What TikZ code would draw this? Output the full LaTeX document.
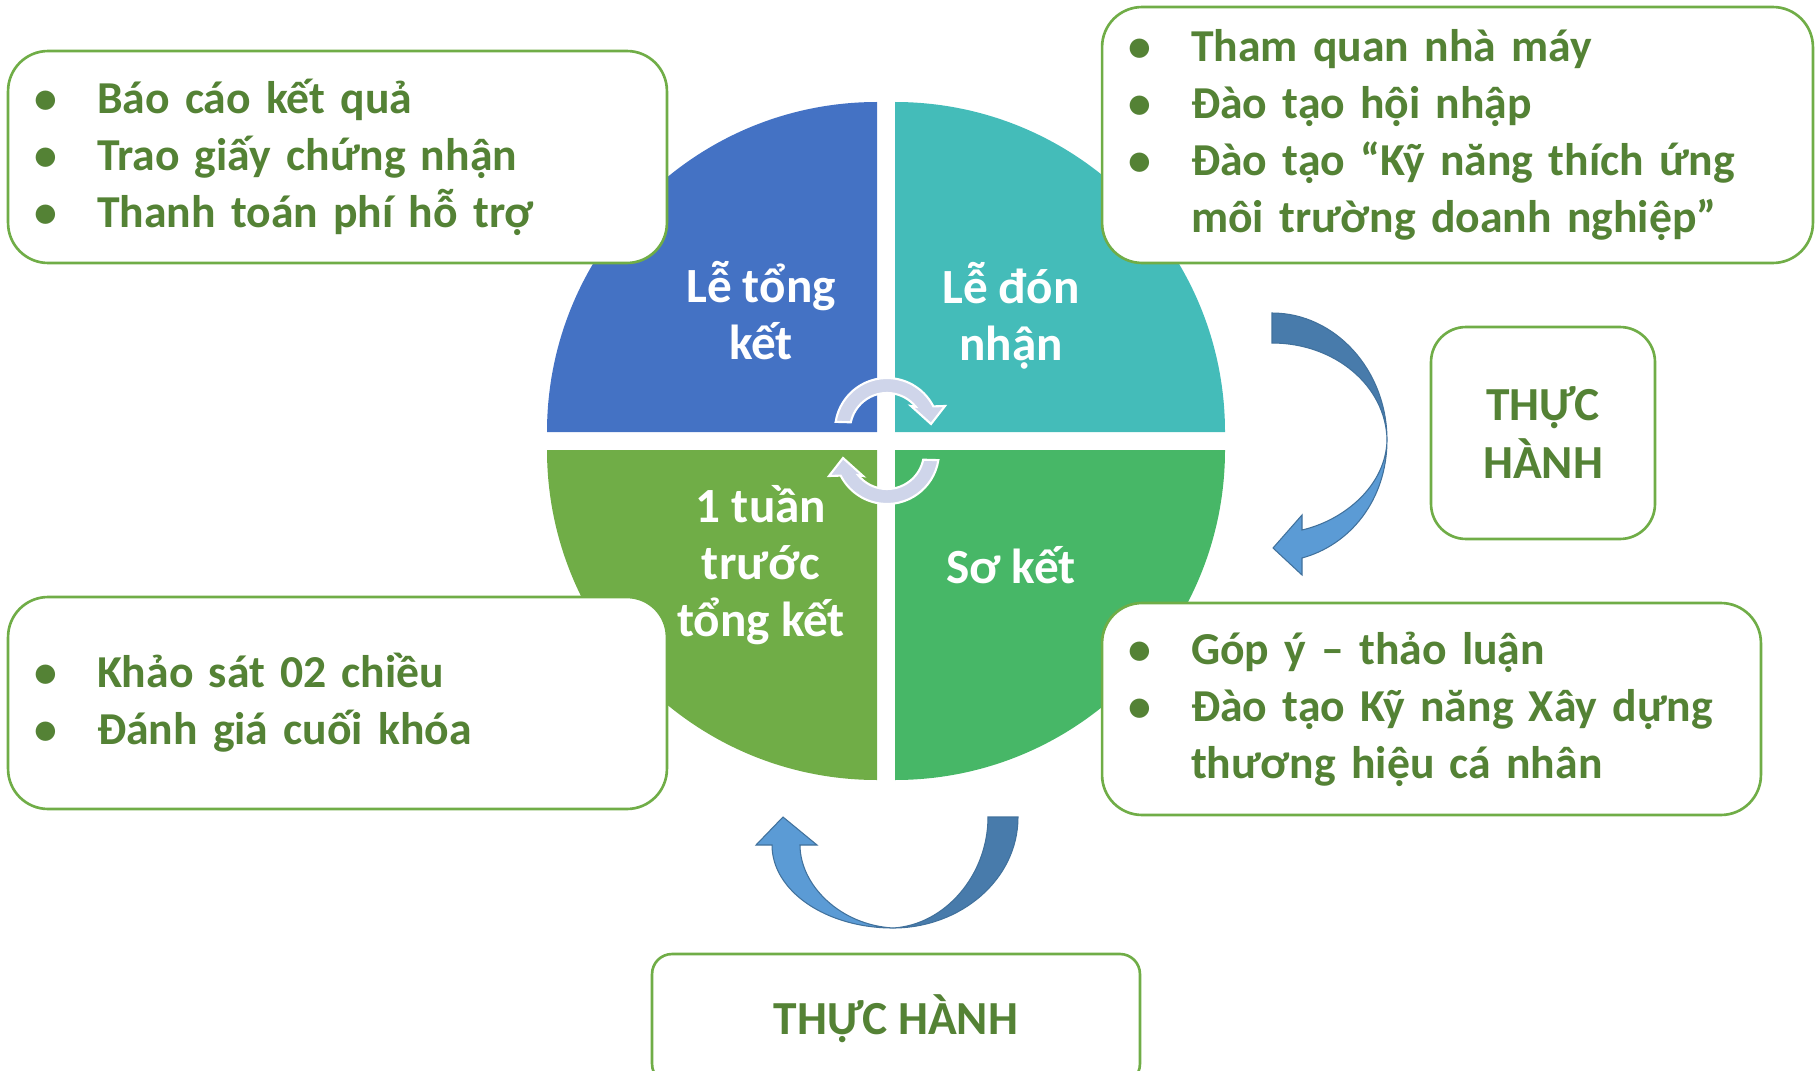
\documentclass[tikz,border=0pt]{standalone}
\usepackage{fontspec}
\setmainfont{Carlito}
\usetikzlibrary{positioning}

\definecolor{qblue}{HTML}{4472C4}
\definecolor{qteal}{HTML}{44BCB9}
\definecolor{qgreen}{HTML}{47B767}
\definecolor{qolive}{HTML}{70AD47}
\definecolor{boxgreen}{HTML}{70AD47}
\definecolor{textgreen}{HTML}{548235}
\definecolor{arrlightc}{HTML}{5B9BD5}
\definecolor{arrdarkc}{HTML}{487BAB}
\definecolor{arredge}{HTML}{41719C}
\definecolor{rotfill}{HTML}{CFD5EA}

\newcommand{\itm}[1]{\makebox[1.26cm][l]{•}#1}
\newcommand{\nxt}[1]{\hspace*{1.26cm}#1}

\tikzset{
	infobox/.style={draw=boxgreen,line width=1.5pt,fill=white,rounded corners=0.8cm,inner xsep=0.52cm,align=left,text=textgreen,font=\fontsize{26}{32.5}\selectfont\bfseries},
	thbox/.style={draw=boxgreen,line width=1.5pt,fill=white,rounded corners=0.7cm,align=center,text=textgreen,font=\fontsize{27}{33}\selectfont\bfseries},
	qlabel/.style={text=white,align=center,font=\fontsize{28}{32.5}\selectfont\bfseries},
	arrlight/.style={fill=arrlightc,draw=arredge,line width=0.6pt},
	arrdark/.style={fill=arrdarkc,draw=arredge,line width=0.6pt},
	rotarr/.style={fill=rotfill,draw=white,line width=1.2pt}
}

\begin{document}
\begin{tikzpicture}[x=0.02cm,y=0.02cm]
		\useasboundingbox (0,0) rectangle (1819,-1071);
		\clip (0,0) rectangle (1819,-1071);
		% four quarters of the wheel
		\fill[qblue] (877,-432) -- ++(-330,0) arc[start angle=180,end angle=90,radius=330] -- cycle;
		\fill[qteal] (895,-432) -- ++(0,330) arc[start angle=90,end angle=0,radius=330] -- cycle;
		\fill[qgreen] (895,-450) -- ++(330,0) arc[start angle=0,end angle=-90,radius=330] -- cycle;
		\fill[qolive] (877,-450) -- ++(0,-330) arc[start angle=270,end angle=180,radius=330] -- cycle;
		% small turning arrows in the middle
		\begin{scope}[shift={(887,-430)}]
			\filldraw[rotarr] (171:52) arc[start angle=171,end angle=27,radius=52] -- (58,24) -- (44,6) -- (24,24) -- (39:37) arc[start angle=39,end angle=168,radius=37] -- cycle;
		\end{scope}
		\begin{scope}[shift={(887,-452)},rotate=180]
			\filldraw[rotarr] (171:52) arc[start angle=171,end angle=27,radius=52] -- (58,24) -- (44,6) -- (24,24) -- (39:37) arc[start angle=39,end angle=168,radius=37] -- cycle;
		\end{scope}
		% big curved arrows
		\filldraw[arrdark] (1272,-313) .. controls (1335,-313) and (1387,-370) .. (1387,-440) .. controls (1386,-386) and (1335,-343) .. (1272,-343) -- cycle;
		\filldraw[arrlight] (1387,-440) .. controls (1387,-500) and (1350,-545) .. (1302,-558) -- (1302,-575) -- (1273,-548) -- (1302,-515) -- (1302,-530) .. controls (1345,-520) and (1386,-485) .. (1387,-440) -- cycle;
		\filldraw[arrdark] (988,-817) -- (1018,-817) .. controls (1018,-880) and (960,-928) .. (893,-928) .. controls (945,-925) and (988,-875) .. (988,-817) -- cycle;
		\filldraw[arrlight] (893,-928) .. controls (826,-928) and (772,-891) .. (772,-845) -- (756,-845) -- (783,-817) -- (817,-845) -- (800,-845) .. controls (800,-885) and (840,-925) .. (893,-928) -- cycle;
		% boxes
		\node (kq) [infobox,minimum width=13.18cm,minimum height=4.24cm,text width=12.14cm] at (337.5,-157) {\itm{Báo cáo kết quả}\\\itm{Trao giấy chứng nhận}\\\itm{Thanh toán phí hỗ trợ}};
		\node (dt) [infobox,minimum width=14.22cm,minimum height=5.12cm,text width=13.18cm] at (1457.5,-135) {\itm{Tham quan nhà máy}\\\itm{Đào tạo hội nhập}\\\itm{Đào tạo “Kỹ năng thích ứng}\\\nxt{môi trường doanh nghiệp”}};
		\node (gy) [infobox,minimum width=13.18cm,minimum height=4.24cm,text width=12.14cm] at (1431.5,-709) {\itm{Góp ý – thảo luận}\\\itm{Đào tạo Kỹ năng Xây dựng}\\\nxt{thương hiệu cá nhân}};
		\node (ks) [infobox,minimum width=13.18cm,minimum height=4.24cm,text width=12.14cm] at (337.5,-703) {\itm{Khảo sát 02 chiều}\\\itm{Đánh giá cuối khóa}};
		\node (th1) [thbox,minimum width=4.48cm,minimum height=4.24cm] at (1543,-433) {THỰC\\HÀNH};
		\node (th2) [thbox,minimum width=9.76cm,minimum height=2.6cm,rounded corners=0.4cm] at (896,-1019) {THỰC HÀNH};
		% labels on the wheel
		\node (ltk) [qlabel] at (761,-311) {Lễ tổng\\kết};
		\node (ldn) [qlabel] at (1011,-316) {Lễ đón\\nhận};
		\node (tuan) [qlabel] at (761,-565) {1 tuần\\trước\\tổng kết};
		\node (sok) [qlabel] at (1011,-565) {Sơ kết};
	\end{tikzpicture}
\end{document}
